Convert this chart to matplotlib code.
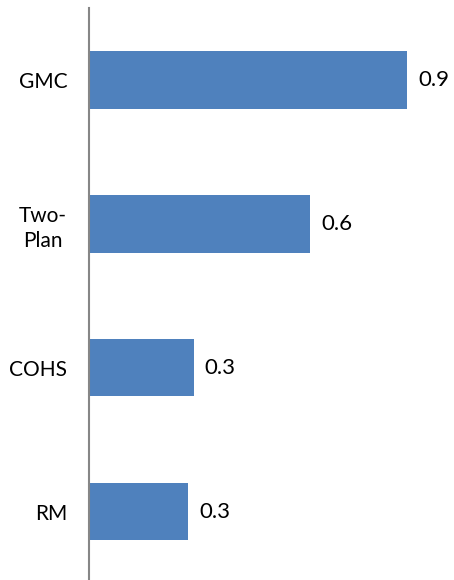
import matplotlib
matplotlib.use("Agg")
import matplotlib.pyplot as plt

categories = ["GMC", "Two-\nPlan", "COHS", "RM"]
values = [0.90, 0.625, 0.295, 0.28]

plt.rcParams["font.family"] = ["Lato", "DejaVu Sans"]

fig = plt.figure(figsize=(4.54, 5.80), dpi=100)
ax = fig.add_axes([0.197, -0.006, 0.803, 0.992])

ypos = list(range(len(categories)))
bars = ax.barh(ypos, values, height=0.4, color="#4F81BD", edgecolor="none")

for b, v in zip(bars, values):
    ax.annotate(f"{v:.1f}", xy=(b.get_width(), b.get_y() + b.get_height() / 2),
                xytext=(8, 0), textcoords="offset points",
                ha="left", va="center", fontsize=16, color="black")

ax.set_ylim(len(categories) - 0.5, -0.5)
ax.set_xlim(0, 1.032)
ax.set_yticks(ypos)
ax.set_yticklabels(categories, fontsize=15, multialignment="center",
                   linespacing=1.35)
ax.tick_params(axis="y", length=0, pad=16)
ax.set_xticks([])

for side in ["top", "right", "bottom"]:
    ax.spines[side].set_visible(False)
ax.spines["left"].set_color("#868686")
ax.spines["left"].set_linewidth(1.5)

fig.savefig("out.png", dpi=100)
